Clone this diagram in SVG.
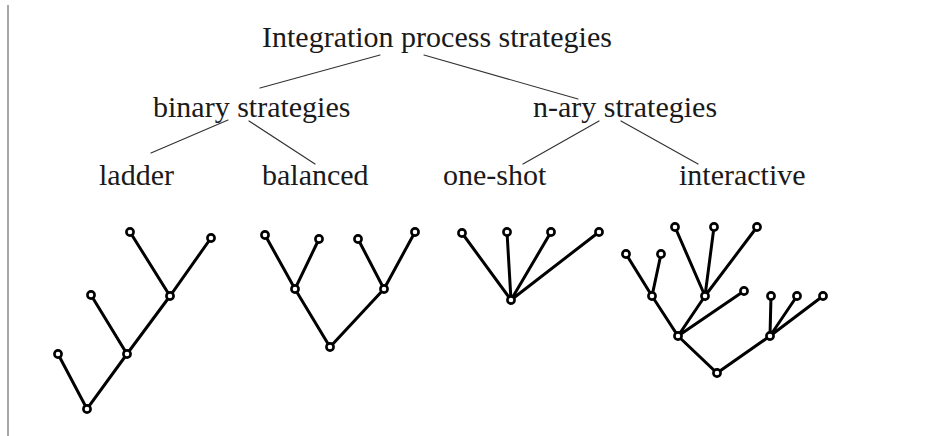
<svg xmlns="http://www.w3.org/2000/svg" width="932" height="436" viewBox="0 0 932 436">
  <style>
    .lbl { font-family: "Liberation Serif", "Times New Roman", serif; font-size: 30px; fill: #1a1a1a; }
    .link { stroke: #333; stroke-width: 1.2; fill: none; stroke-linecap: round; }
    .edge { stroke: #000; stroke-width: 3; fill: none; stroke-linecap: round; }
    .vx { fill: #fff; stroke: #000; stroke-width: 2.6; }
  </style>
  <rect width="932" height="436" fill="#fff"/>
  <!-- left frame rule -->
  <line x1="8" y1="5" x2="8" y2="436" stroke="#8a8a8a" stroke-width="1.5"/>

  <!-- taxonomy links -->
  <g id="connectors">
    <line class="link" x1="380" y1="55" x2="260" y2="88"/>
    <line class="link" x1="424" y1="55" x2="578" y2="99"/>
    <line class="link" x1="228" y1="120" x2="151" y2="153"/>
    <line class="link" x1="249" y1="121" x2="315" y2="164"/>
    <line class="link" x1="599" y1="121" x2="523" y2="164"/>
    <line class="link" x1="621" y1="121" x2="698" y2="164"/>
  </g>

  <g id="root-label"><text class="lbl" x="262" y="47">Integration process strategies</text></g>
  <g id="binary-label"><text class="lbl" x="153" y="117">binary strategies</text></g>
  <g id="nary-label"><text class="lbl" x="533" y="117">n-ary strategies</text></g>
  <g id="ladder-label"><text class="lbl" x="99" y="185">ladder</text></g>
  <g id="balanced-label"><text class="lbl" x="262" y="185">balanced</text></g>
  <g id="oneshot-label"><text class="lbl" x="443" y="185">one-shot</text></g>
  <g id="interactive-label"><text class="lbl" x="679" y="185">interactive</text></g>

  <!-- ladder tree -->
  <g id="ladder-tree">
    <path class="edge" d="M130 232L170 296L211 238M170 296L127 354L91 295M127 354L87 409L58 354"/>
    <circle class="vx" cx="130" cy="232" r="3.6"/>
    <circle class="vx" cx="211" cy="238" r="3.6"/>
    <circle class="vx" cx="170" cy="296" r="3.6"/>
    <circle class="vx" cx="91" cy="295" r="3.6"/>
    <circle class="vx" cx="127" cy="354" r="3.6"/>
    <circle class="vx" cx="58" cy="354" r="3.6"/>
    <circle class="vx" cx="87" cy="409" r="3.6"/>
  </g>

  <!-- balanced tree -->
  <g id="balanced-tree">
    <path class="edge" d="M265 235L295 289L319 239M358 239L384 289L415 232M295 289L330 347L384 289"/>
    <circle class="vx" cx="265" cy="235" r="3.6"/>
    <circle class="vx" cx="319" cy="239" r="3.6"/>
    <circle class="vx" cx="295" cy="289" r="3.6"/>
    <circle class="vx" cx="358" cy="239" r="3.6"/>
    <circle class="vx" cx="415" cy="232" r="3.6"/>
    <circle class="vx" cx="384" cy="289" r="3.6"/>
    <circle class="vx" cx="330" cy="347" r="3.6"/>
  </g>

  <!-- one-shot tree -->
  <g id="oneshot-tree">
    <path class="edge" d="M462 233L511 300L507 232M511 300L551 232M511 300L599 232"/>
    <circle class="vx" cx="462" cy="233" r="3.6"/>
    <circle class="vx" cx="507" cy="232" r="3.6"/>
    <circle class="vx" cx="551" cy="232" r="3.6"/>
    <circle class="vx" cx="599" cy="232" r="3.6"/>
    <circle class="vx" cx="511" cy="300" r="3.6"/>
  </g>

  <!-- interactive tree -->
  <g id="interactive-tree">
    <path class="edge" d="M626 254L652 296L661 254M675 227L705 296L714 227M705 296L757 227M652 296L678 336L705 296M678 336L744 291M678 336L717 373L770 336M771 296L770 336L797 296M770 336L823 296"/>
    <circle class="vx" cx="626" cy="254" r="3.6"/>
    <circle class="vx" cx="661" cy="254" r="3.6"/>
    <circle class="vx" cx="652" cy="296" r="3.6"/>
    <circle class="vx" cx="675" cy="227" r="3.6"/>
    <circle class="vx" cx="714" cy="227" r="3.6"/>
    <circle class="vx" cx="757" cy="227" r="3.6"/>
    <circle class="vx" cx="705" cy="296" r="3.6"/>
    <circle class="vx" cx="744" cy="291" r="3.6"/>
    <circle class="vx" cx="678" cy="336" r="3.6"/>
    <circle class="vx" cx="771" cy="296" r="3.6"/>
    <circle class="vx" cx="797" cy="296" r="3.6"/>
    <circle class="vx" cx="823" cy="296" r="3.6"/>
    <circle class="vx" cx="770" cy="336" r="3.6"/>
    <circle class="vx" cx="717" cy="373" r="3.6"/>
  </g>
</svg>
